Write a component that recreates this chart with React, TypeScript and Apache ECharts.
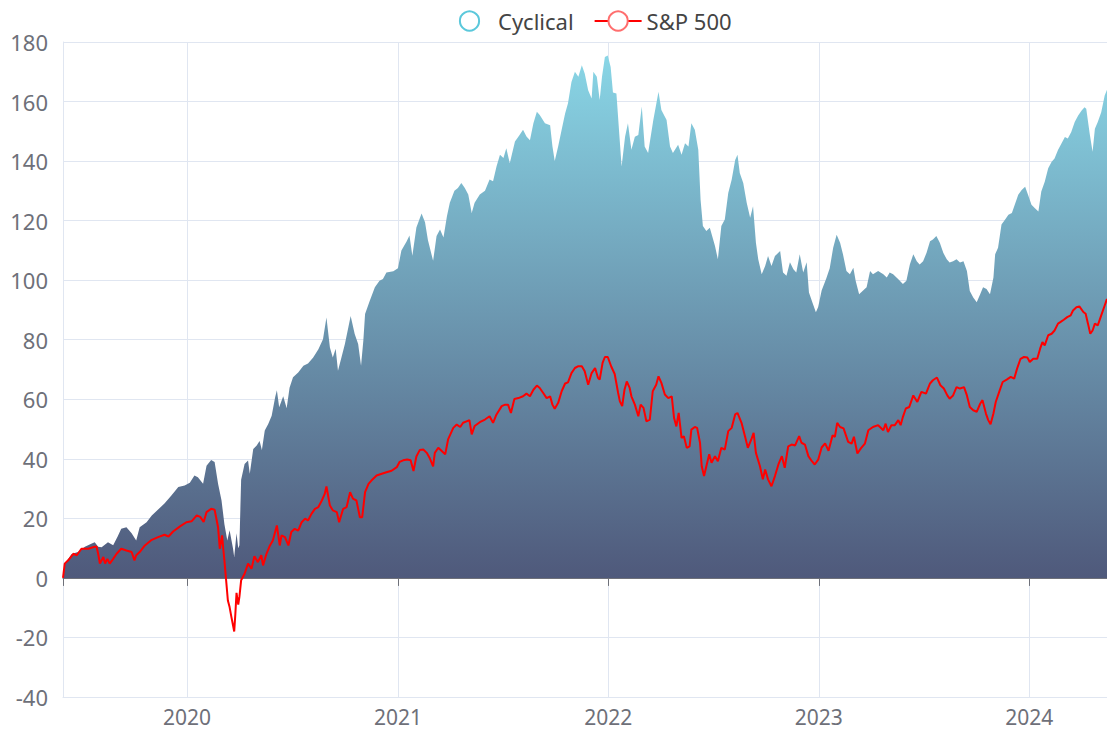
import React, { useEffect, useRef } from 'react';
import * as echarts from 'echarts';

const cyclicalDates = [
  '2019-05-31','2019-06-03','2019-06-15','2019-06-26','2019-07-08','2019-07-19','2019-07-25','2019-07-31','2019-08-06','2019-08-17','2019-08-26',
  '2019-09-03','2019-09-09','2019-09-18','2019-09-27','2019-10-05','2019-10-11','2019-10-23','2019-11-01','2019-11-12','2019-11-23','2019-12-05',
  '2019-12-17','2019-12-28','2020-01-06','2020-01-14','2020-01-20','2020-01-29','2020-02-04','2020-02-12','2020-02-18','2020-02-24','2020-03-01',
  '2020-03-06','2020-03-11','2020-03-15','2020-03-21','2020-03-23','2020-03-27','2020-03-30','2020-04-01','2020-04-04','2020-04-10','2020-04-16',
  '2020-04-19','2020-04-25','2020-05-01','2020-05-06','2020-05-10','2020-05-15','2020-05-21','2020-05-27','2020-06-02','2020-06-05','2020-06-09',
  '2020-06-16','2020-06-22','2020-06-27','2020-07-03','2020-07-12','2020-07-21','2020-07-29','2020-08-07','2020-08-16','2020-08-24','2020-08-30',
  '2020-09-05','2020-09-10','2020-09-15','2020-09-19','2020-09-25','2020-10-01','2020-10-07','2020-10-11','2020-10-18','2020-10-24','2020-10-29',
  '2020-11-02','2020-11-05','2020-11-13','2020-11-22','2020-11-30','2020-12-06','2020-12-12','2020-12-24','2021-01-01','2021-01-07','2021-01-16',
  '2021-01-21','2021-01-26','2021-02-02','2021-02-11','2021-02-17','2021-02-22','2021-03-03','2021-03-09','2021-03-15','2021-03-21','2021-03-27',
  '2021-04-01','2021-04-09','2021-04-15','2021-04-21','2021-04-27','2021-05-03','2021-05-09','2021-05-14','2021-05-23','2021-06-01','2021-06-09',
  '2021-06-15','2021-06-21','2021-06-27','2021-07-03','2021-07-08','2021-07-14','2021-07-23','2021-07-31','2021-08-06','2021-08-12','2021-08-18',
  '2021-08-24','2021-08-30','2021-09-04','2021-09-13','2021-09-22','2021-09-26','2021-09-30','2021-10-06','2021-10-12','2021-10-18','2021-10-23',
  '2021-10-29','2021-11-04','2021-11-10','2021-11-16','2021-11-21','2021-11-27','2021-12-03','2021-12-06','2021-12-12','2021-12-17','2021-12-21',
  '2021-12-26','2021-12-31','2022-01-05','2022-01-09','2022-01-15','2022-01-20','2022-01-24','2022-01-30','2022-02-04','2022-02-10','2022-02-16',
  '2022-02-22','2022-02-28','2022-03-05','2022-03-11','2022-03-20','2022-03-29','2022-04-03','2022-04-12','2022-04-18','2022-04-23','2022-05-02',
  '2022-05-08','2022-05-14','2022-05-20','2022-05-25','2022-05-31','2022-06-06','2022-06-10','2022-06-14','2022-06-20','2022-06-26','2022-07-05',
  '2022-07-10','2022-07-16','2022-07-22','2022-07-28','2022-08-03','2022-08-09','2022-08-13','2022-08-17','2022-08-23','2022-08-29','2022-09-04',
  '2022-09-09','2022-09-14','2022-09-18','2022-09-24','2022-09-30','2022-10-05','2022-10-11','2022-10-17','2022-10-26','2022-10-31','2022-11-06',
  '2022-11-12','2022-11-18','2022-11-23','2022-11-29','2022-12-05','2022-12-11','2022-12-15','2022-12-21','2022-12-27','2022-12-31','2023-01-06',
  '2023-01-14','2023-01-20','2023-01-26','2023-02-01','2023-02-07','2023-02-12','2023-02-18','2023-02-24','2023-03-02','2023-03-06','2023-03-12',
  '2023-03-18','2023-03-25','2023-03-31','2023-04-05','2023-04-14','2023-04-23','2023-04-29','2023-05-04','2023-05-10','2023-05-19','2023-05-27',
  '2023-06-02','2023-06-08','2023-06-14','2023-06-20','2023-06-25','2023-07-01','2023-07-07','2023-07-13','2023-07-18','2023-07-24','2023-07-30',
  '2023-08-05','2023-08-11','2023-08-16','2023-08-22','2023-08-28','2023-09-03','2023-09-09','2023-09-15','2023-09-20','2023-09-26','2023-10-02',
  '2023-10-08','2023-10-13','2023-10-19','2023-10-25','2023-10-31','2023-11-03','2023-11-08','2023-11-14','2023-11-20','2023-11-26','2023-12-02',
  '2023-12-07','2023-12-13','2023-12-19','2023-12-25','2023-12-30','2024-01-05','2024-01-11','2024-01-17','2024-01-22','2024-01-28','2024-02-03',
  '2024-02-09','2024-02-14','2024-02-20','2024-02-26','2024-03-03','2024-03-08','2024-03-14','2024-03-20','2024-03-26','2024-04-01','2024-04-06',
  '2024-04-09','2024-04-15','2024-04-20','2024-04-24','2024-04-29','2024-05-05','2024-05-11','2024-05-15'
];
const cyclicalValues = [
  0, 4.7, 8, 8.7, 10.5, 11.5, 12, 10.5, 10.3, 12, 11,
  14, 16.5, 17, 15, 12.6, 17, 18.7, 21, 23, 25, 27.7,
  30.5, 31, 32, 34.4, 33.8, 31.6, 37.7, 39.6, 38.9, 31.6, 26,
  18, 12.6, 16, 9.8, 7, 15, 10, 11, 33, 38.3, 39.4,
  35, 43.3, 44.5, 46, 43, 49.5, 51.7, 54.5, 60.7, 63, 57.3,
  61, 57, 63.9, 67.4, 69, 71.3, 72, 74, 76.8, 80.2, 87.5,
  77.4, 74, 77, 69.6, 74, 78.6, 84.2, 88, 81.9, 78.6, 71.3,
  79.7, 88.6, 93, 97.6, 99.8, 100.4, 102.6, 103, 104, 110, 113,
  115, 108.2, 117.7, 122.4, 119.5, 113.5, 106.5, 114.8, 117, 114.3, 121.5,
  126, 130, 131, 132.6, 131, 128.8, 122.6, 126, 128.8, 130, 133.8,
  133.2, 138.2, 142.1, 141, 144.3, 139.3, 146.6, 148.8, 150.5, 148.3, 147,
  152.7, 156.6, 155.5, 152.7, 152, 145, 140, 145, 150.5, 156, 159.4,
  166.6, 170, 168.3, 172.2, 169.4, 163.8, 161, 170, 168.3, 160.5, 168.3,
  175, 175.5, 171.6, 163, 162.7, 149, 138.2, 148.2, 152.7, 143.8, 148.2,
  148.8, 158.3, 144.9, 142.7, 153.8, 163.3, 157.2, 153.8, 144.9, 142.7, 145.5,
  142.1, 146, 144.9, 152.7, 150.5, 143.8, 127, 118.2, 116.5, 117.6, 111.5,
  107, 118.2, 120.4, 129.3, 133.8, 140.4, 142.1, 136, 132.6, 126, 121,
  124.8, 112.6, 107, 102, 104.8, 108.1, 104.8, 108.1, 109.8, 102.6, 101.5,
  106, 103.7, 102.6, 108.7, 102.6, 106, 95.9, 92.5, 89.2, 91, 96.5,
  100.6, 104, 110.9, 115.3, 112.6, 108.7, 103.1, 102, 104.2, 99.8, 95.3,
  96.4, 97.6, 103.1, 102, 103.1, 102, 100.9, 102.6, 102, 100.3, 98.7,
  99.8, 105.3, 108.7, 106.4, 105.3, 106.4, 109.2, 113.1, 113.7, 114.8, 112.6,
  109.2, 107, 105.9, 106.4, 107, 105.9, 106.4, 103.1, 96.4, 94.2, 92.6,
  95.3, 97.6, 97, 95.3, 100.9, 108.7, 110.9, 118.7, 120.3, 122, 122.6,
  125.3, 128.7, 130.3, 131.4, 128.7, 125.3, 124.2, 123.1, 129.8, 133.1, 137.6,
  139.8, 140.9, 143.7, 145.9, 148.1, 147.6, 149.8, 153.1, 155.3, 157, 158.1,
  157.6, 149.2, 143.1, 150.9, 153.1, 156.4, 162, 164
];

const spDates = [
  '2019-05-31','2019-06-03','2019-06-09','2019-06-18','2019-06-24','2019-07-02','2019-07-14','2019-07-22','2019-07-28','2019-07-31','2019-08-03',
  '2019-08-09','2019-08-12','2019-08-16','2019-08-20','2019-08-26','2019-09-01','2019-09-09','2019-09-18','2019-09-27','2019-10-02','2019-10-05',
  '2019-10-11','2019-10-20','2019-11-01','2019-11-12','2019-11-23','2019-11-30','2019-12-08','2019-12-20','2019-12-31','2020-01-09','2020-01-18',
  '2020-01-24','2020-01-30','2020-02-04','2020-02-12','2020-02-18','2020-02-24','2020-02-27','2020-03-02','2020-03-04','2020-03-06','2020-03-09',
  '2020-03-12','2020-03-15','2020-03-18','2020-03-23','2020-03-25','2020-03-27','2020-03-30','2020-04-01','2020-04-04','2020-04-10','2020-04-16',
  '2020-04-22','2020-04-27','2020-05-03','2020-05-09','2020-05-12','2020-05-18','2020-05-24','2020-05-29','2020-06-05','2020-06-10','2020-06-13',
  '2020-06-19','2020-06-25','2020-06-30','2020-07-06','2020-07-12','2020-07-18','2020-07-24','2020-07-29','2020-08-04','2020-08-10','2020-08-16',
  '2020-08-22','2020-08-27','2020-08-30','2020-09-05','2020-09-10','2020-09-17','2020-09-21','2020-09-28','2020-10-04','2020-10-10','2020-10-15',
  '2020-10-21','2020-10-27','2020-10-31','2020-11-05','2020-11-11','2020-11-16','2020-11-25','2020-12-04','2020-12-12','2020-12-21','2020-12-30',
  '2021-01-04','2021-01-10','2021-01-17','2021-01-23','2021-01-28','2021-02-02','2021-02-08','2021-02-14','2021-02-20','2021-02-25','2021-03-03',
  '2021-03-06','2021-03-12','2021-03-18','2021-03-24','2021-03-29','2021-04-07','2021-04-13','2021-04-19','2021-04-24','2021-04-30','2021-05-05',
  '2021-05-09','2021-05-14','2021-05-23','2021-06-01','2021-06-09','2021-06-15','2021-06-21','2021-06-30','2021-07-06','2021-07-11','2021-07-16',
  '2021-07-22','2021-07-29','2021-08-06','2021-08-12','2021-08-18','2021-08-24','2021-08-30','2021-09-04','2021-09-10','2021-09-16','2021-09-22',
  '2021-09-26','2021-09-30','2021-10-06','2021-10-12','2021-10-18','2021-10-23','2021-10-29','2021-11-04','2021-11-10','2021-11-16','2021-11-21',
  '2021-11-27','2021-12-03','2021-12-09','2021-12-14','2021-12-17','2021-12-22','2021-12-26','2021-12-31','2022-01-06','2022-01-12','2022-01-18',
  '2022-01-21','2022-01-25','2022-01-29','2022-02-02','2022-02-07','2022-02-10','2022-02-16','2022-02-22','2022-02-26','2022-03-03','2022-03-08',
  '2022-03-14','2022-03-19','2022-03-25','2022-03-29','2022-04-03','2022-04-09','2022-04-15','2022-04-21','2022-04-25','2022-04-29','2022-05-03',
  '2022-05-08','2022-05-12','2022-05-17','2022-05-22','2022-05-25','2022-05-31','2022-06-04','2022-06-09','2022-06-12','2022-06-16','2022-06-20',
  '2022-06-25','2022-06-29','2022-07-05','2022-07-10','2022-07-16','2022-07-22','2022-07-28','2022-08-03','2022-08-09','2022-08-13','2022-08-20',
  '2022-08-26','2022-08-31','2022-09-06','2022-09-10','2022-09-14','2022-09-21','2022-09-26','2022-09-30','2022-10-05','2022-10-11','2022-10-17',
  '2022-10-23','2022-10-29','2022-11-03','2022-11-09','2022-11-15','2022-11-21','2022-11-28','2022-12-02','2022-12-08','2022-12-14','2022-12-20',
  '2022-12-25','2022-12-31','2023-01-06','2023-01-12','2023-01-18','2023-01-25','2023-01-29','2023-02-02','2023-02-07','2023-02-13','2023-02-21',
  '2023-02-27','2023-03-03','2023-03-09','2023-03-15','2023-03-22','2023-03-28','2023-04-05','2023-04-14','2023-04-23','2023-04-27','2023-05-01',
  '2023-05-07','2023-05-13','2023-05-19','2023-05-23','2023-05-27','2023-06-01','2023-06-07','2023-06-14','2023-06-21','2023-06-28','2023-07-06',
  '2023-07-13','2023-07-18','2023-07-25','2023-07-31','2023-08-06','2023-08-12','2023-08-16','2023-08-22','2023-08-28','2023-09-03','2023-09-10',
  '2023-09-15','2023-09-20','2023-09-26','2023-10-02','2023-10-08','2023-10-12','2023-10-18','2023-10-22','2023-10-26','2023-10-31','2023-11-04',
  '2023-11-10','2023-11-16','2023-11-23','2023-11-30','2023-12-06','2023-12-11','2023-12-17','2023-12-23','2023-12-29','2024-01-02','2024-01-08',
  '2024-01-15','2024-01-20','2024-01-24','2024-01-28','2024-02-03','2024-02-09','2024-02-14','2024-02-20','2024-02-24','2024-03-01','2024-03-07',
  '2024-03-13','2024-03-17','2024-03-23','2024-03-28','2024-04-04','2024-04-08','2024-04-12','2024-04-16','2024-04-20','2024-04-24','2024-04-29',
  '2024-05-05','2024-05-11','2024-05-15'
];
const spValues = [
  0, 4.8, 5.9, 8.1, 7.6, 9.8, 9.8, 10.3, 10.6, 8.1, 4.8,
  7, 4.8, 6.4, 4.8, 6.4, 8.1, 9.8, 9.2, 8.7, 5.9, 7.6,
  8.7, 10.9, 12.8, 13.7, 14.5, 13.9, 15.6, 17.3, 18.7, 19, 21,
  20.5, 18.8, 22.1, 23.2, 22.9, 17, 9.8, 14.3, 9.8, 5.9, -0.8,
  -7.6, -9.8, -13, -18, -12, -5, -9, -6.4, -0.8, 1.4, 4.8,
  3.1, 7.3, 5.3, 7.6, 4.2, 8.1, 10.9, 12.6, 17.6, 10.9, 14.3,
  13.7, 10.9, 15.4, 16.5, 15.9, 18.7, 19.9, 19.3, 21.5, 23.2, 23.8,
  26, 28.2, 30.7, 24.3, 22.7, 22.1, 18.7, 23.2, 23.8, 28.8, 26.6,
  26, 20.4, 20.4, 28.8, 31.6, 32.7, 34.4, 35, 35.5, 36, 37.2,
  39, 39.5, 39.8, 39.5, 35.9, 40.8, 43, 43.1, 42, 40.3, 37.5,
  42, 43.7, 42.6, 41.5, 46.5, 50.4, 51.5, 50.7, 52.1, 52.6, 53,
  48.2, 51, 52.3, 53.2, 54.3, 52.1, 54.9, 57.7, 58.2, 58.2, 55.4,
  60.1, 60.4, 61, 61.9, 61, 63.2, 64.6, 63.8, 62.1, 60.4, 61,
  58.2, 56.8, 58.8, 62.7, 65.3, 65.7, 68.8, 70.5, 71.1, 71.1, 69.4,
  64.9, 68.8, 70.5, 67.2, 66.6, 72.2, 74.2, 74.2, 71, 68.5, 62.1,
  59.3, 57.7, 63.2, 66, 63.8, 61, 58.2, 54.3, 58.2, 57.1, 52.6,
  53.2, 62.7, 64.9, 67.7, 65.5, 61.6, 60.4, 61, 53.7, 50.9, 55.4,
  47, 47.6, 43.7, 44.2, 49.8, 50.7, 50.4, 45.4, 37.5, 34.2, 37.5,
  41.5, 38.7, 40.9, 39.2, 43.7, 43.1, 49.3, 50.4, 54.9, 55.4, 52.1,
  47.6, 43.7, 46.5, 48.7, 42, 37.5, 33.1, 36.4, 33.1, 30.8, 34.2,
  38.1, 40.9, 37, 44.2, 44.8, 44.5, 47.6, 45.4, 44.8, 40.9, 39.2,
  38.1, 39.7, 43.8, 45.2, 42.7, 47.9, 47.4, 52.1, 50.7, 50.2, 45.7,
  45.1, 47.4, 41.8, 43.5, 45.1, 49.6, 50.7, 51.3, 49.6, 51.8, 49,
  51.3, 51.3, 53, 51.3, 54.1, 56.9, 57.4, 61.3, 59.1, 62.5, 61.9,
  65.3, 66.4, 67.3, 64.7, 63.6, 61.3, 60.2, 61.3, 64.1, 63.6, 64.1,
  61.3, 57.4, 56.3, 55.8, 58.5, 59.7, 55.2, 53, 51.6, 55.2, 59.1,
  62.5, 65.8, 66.6, 67.5, 66.9, 70.3, 73.6, 74.2, 74, 72.5, 73.6,
  73.6, 77, 79.2, 78.1, 81.5, 82, 83.1, 85.4, 85.9, 86.7, 87.6,
  88.2, 89.8, 90.9, 91.2, 89.3, 88.7, 85.4, 82, 83.1, 85.4, 84.8,
  88.2, 91.5, 93.7
];

const seriesNames = ['Cyclical', 'S&P 500'];
const xMin = '2019-05-31';
const xMax = '2024-05-15';
const yMin = -40;
const yMax = 180;
const yStep = 20;

export default function App() {
  const ref = useRef<HTMLDivElement>(null);
  useEffect(() => {
    const chart = echarts.init(ref.current as HTMLDivElement, null, { renderer: 'svg' });
    const font = 'Noto Sans';
    const grey = '#6E7079';
    const gridColor = '#E0E6F1';
    const YEAR = 365 * 24 * 3600 * 1000;
    const cyc = cyclicalDates.map((d, i) => [d, cyclicalValues[i]]);
    const sp = spDates.map((d, i) => [d, spValues[i]]);
    chart.setOption({
      animation: false,
      textStyle: { fontFamily: font },
      legend: {
        data: seriesNames,
        top: 5,
        left: 441,
        itemWidth: 47,
        itemHeight: 24,
        itemGap: 20,
        textStyle: { fontSize: 22, color: '#444', fontFamily: font },
      },
      grid: { left: 63, right: 0, top: 42, bottom: 35, containLabel: false, outerBoundsMode: 'none' },
      xAxis: [
        {
          type: 'time',
          min: xMin,
          max: xMax,
          position: 'bottom',
          minInterval: YEAR,
          maxInterval: YEAR + 2 * 24 * 3600 * 1000,
          axisLine: { show: true, onZero: false, lineStyle: { color: gridColor } },
          axisTick: { show: false },
          axisLabel: {
            color: grey,
            fontSize: 21,
            lineHeight: 21,
            fontFamily: font,
            margin: 9,
            formatter: (v: number) => String(new Date(v).getFullYear()),
          },
          splitLine: { show: true, lineStyle: { color: gridColor } },
        },
        {
          type: 'time',
          min: xMin,
          max: xMax,
          position: 'bottom',
          minInterval: YEAR,
          maxInterval: YEAR + 2 * 24 * 3600 * 1000,
          axisLine: { show: true, onZero: true, lineStyle: { color: grey } },
          axisTick: { show: true, length: 8, lineStyle: { color: grey } },
          axisLabel: { show: false },
          splitLine: { show: false },
          z: 5,
        },
      ],
      yAxis: {
        type: 'value',
        min: yMin,
        max: yMax,
        interval: yStep,
        axisLine: { show: true, lineStyle: { color: gridColor } },
        axisTick: { show: false },
        axisLabel: { color: grey, fontSize: 22, fontFamily: font, margin: 15 },
        splitLine: { show: true, lineStyle: { color: gridColor } },
      },
      series: [
        {
          name: seriesNames[0],
          type: 'line',
          xAxisIndex: 0,
          data: cyc,
          showSymbol: false,
          symbol: 'emptyCircle',
          lineStyle: { width: 0 },
          itemStyle: { color: '#5BC8DB' },
          areaStyle: {
            opacity: 1,
            color: new echarts.graphic.LinearGradient(0, 0, 0, 1, [
              { offset: 0, color: '#89D6E6' },
              { offset: 1, color: '#4F597B' },
            ]),
          },
          z: 2,
        },
        {
          name: seriesNames[1],
          type: 'line',
          xAxisIndex: 0,
          data: sp,
          showSymbol: false,
          symbol: 'emptyCircle',
          lineStyle: { color: '#FF0000', width: 2 },
          itemStyle: { color: '#FF6E6E' },
          z: 6,
        },
      ],
    });
    return () => chart.dispose();
  }, []);
  return (
    <div
      ref={ref}
      style={{ position: 'absolute', left: 0, top: 0, width: 1107, height: 732, overflow: 'hidden' }}
    />
  );
}
